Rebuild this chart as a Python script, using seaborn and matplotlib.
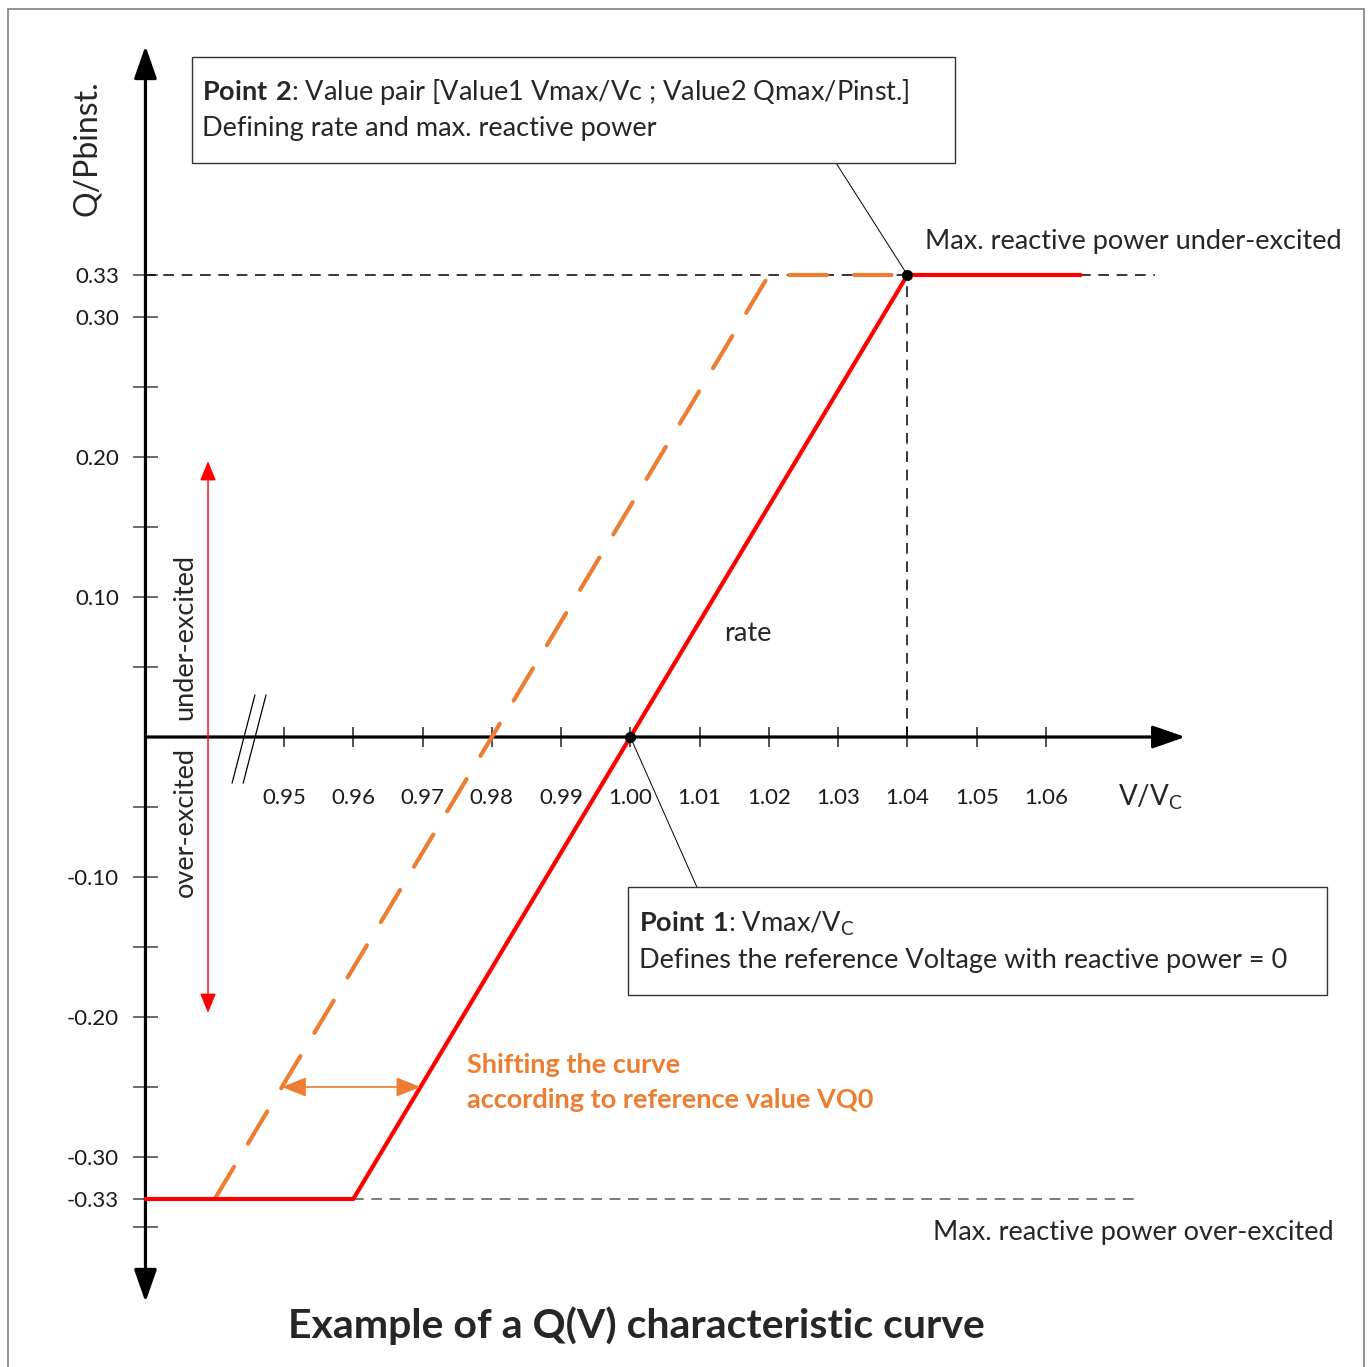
import matplotlib
matplotlib.use('Agg')
import matplotlib.pyplot as plt
import matplotlib.patches as mpatches
import pandas as pd
import seaborn as sns

# ---- data ----
# red Q(V) characteristic (V/Vc, Q/Pbinst.)
v_red = [0.93, 0.96, 1.04, 1.065]
q_red = [-0.33, -0.33, 0.33, 0.33]
# shifted curve (orange dashed)
v_shift = [0.94, 1.02, 1.04]
q_shift = [-0.33, 0.33, 0.33]
# Point 1 and Point 2
point_v = [1.00, 1.04]
point_q = [0.00, 0.33]
q_max = 0.33

x_ticks = [0.95, 0.96, 0.97, 0.98, 0.99, 1.00, 1.01, 1.02, 1.03, 1.04, 1.05, 1.06]
x_labels = ['0.95', '0.96', '0.97', '0.98', '0.99', '1.00', '1.01', '1.02', '1.03', '1.04', '1.05', '1.06']
y_ticks = [0.33, 0.30, 0.20, 0.10, -0.10, -0.20, -0.30, -0.33]
y_labels = ['0.33', '0.30', '0.20', '0.10', '-0.10', '-0.20', '-0.30', '-0.33']
y_minor = [0.25, 0.15, 0.05, -0.05, -0.15, -0.25, -0.35]

RED = '#ff0000'
ORANGE = '#ed7d31'
FS = 19.5

sns.set_style('white')
plt.rcParams['font.family'] = ['Lato', 'DejaVu Sans']
plt.rcParams['mathtext.fontset'] = 'custom'
plt.rcParams['mathtext.rm'] = 'Lato'
plt.rcParams['mathtext.bf'] = 'Lato:bold'

fig = plt.figure(figsize=(13.71, 13.67), dpi=100)
ax = fig.add_axes([0, 0, 1, 1])
ax.set_xlim(0.90900, 1.10692)
ax.set_ylim(-0.45, 0.52643)

# axes through the origin of the diagram
for s in ['top', 'right', 'left', 'bottom']:
    ax.spines[s].set_visible(False)
ax.spines['left'].set_position(('data', 0.93))
ax.spines['bottom'].set_position(('data', 0))

ax.annotate('', xy=(1.0801, 0), xytext=(0.93, 0),
            arrowprops=dict(arrowstyle='-|>,head_length=1.0,head_width=0.35', mutation_scale=20,
                            lw=2.3, color='black', shrinkA=0, shrinkB=0), zorder=3)
ax.annotate('', xy=(0.93, 0.4936), xytext=(0.93, -0.4036),
            arrowprops=dict(arrowstyle='<|-|>,head_length=1.0,head_width=0.35', mutation_scale=20,
                            lw=2.3, color='black', shrinkA=0, shrinkB=0), zorder=3)

# axis break marks
for dv in [0.0, 0.0016]:
    ax.plot([0.9425 + dv, 0.9458 + dv], [-0.033, 0.030], color='black', lw=0.9, zorder=3)

ax.set_xticks(x_ticks, x_labels)
ax.set_yticks(y_ticks, y_labels)
ax.set_yticks(y_minor, minor=True)
ax.tick_params(axis='x', bottom=True, direction='inout', length=15, width=1.1, color='#222222',
               pad=29, labelsize=16, labelcolor='#1a1a1a')
ax.tick_params(axis='y', which='both', left=True, direction='inout', length=18, width=1.1,
               color='#444444', pad=10, labelsize=16, labelcolor='#1a1a1a')

# reference dashed lines
ax.plot([0.93, 1.0757], [q_max, q_max], color='black', lw=1.1, ls=(0, (7, 5)), zorder=2)
ax.plot([0.96, 1.0736], [-q_max, -q_max], color='#555555', lw=1.1, ls=(0, (7, 5)), zorder=2)
ax.plot([1.04, 1.04], [0, q_max], color='black', lw=1.1, ls=(0, (7, 5)), zorder=2)

# curves
df_red = pd.DataFrame({'V': v_red, 'Q': q_red})
df_shift = pd.DataFrame({'V': v_shift, 'Q': q_shift})
sns.lineplot(data=df_shift, x='V', y='Q', ax=ax, color=ORANGE, lw=3.0,
             linestyle=(0, (9, 6.5)), dash_capstyle='round', legend=False, zorder=4)
sns.lineplot(data=df_red, x='V', y='Q', ax=ax, color=RED, lw=3.0, legend=False, zorder=5)
sns.scatterplot(x=point_v, y=point_q, ax=ax, color='black', s=55, edgecolor='black', zorder=6)

ax.set_xlabel('')
ax.set_ylabel('')

# leader lines
ax.plot([1.0297, point_v[1]], [0.41, point_q[1]], color='black', lw=0.7, zorder=3)
ax.plot([1.0096, point_v[0]], [-0.1071, point_q[0]], color='black', lw=0.7, zorder=3)

# annotation boxes
ax.add_patch(mpatches.Rectangle((0.93672, 0.41), 1.04687 - 0.93672, 0.48571 - 0.41,
                                facecolor='white', edgecolor='#333333', lw=1.0, zorder=7))
ax.text(0.93816, 0.4607, r'$\mathbf{Point\ 2}$: Value pair [Value1 Vmax/Vc ; Value2 Qmax/Pinst.]',
        fontsize=FS, va='center', ha='left', zorder=8)
ax.text(0.93816, 0.4350, 'Defining rate and max. reactive power',
        fontsize=FS, va='center', ha='left', zorder=8)

ax.add_patch(mpatches.Rectangle((0.99966, -0.18429), 1.10057 - 0.99966, 0.18429 - 0.10714,
                                facecolor='white', edgecolor='#333333', lw=1.0, zorder=7))
ax.text(1.00125, -0.1336, r'$\mathbf{Point\ 1}$: Vmax/V$_{\mathrm{C}}$',
        fontsize=FS, va='center', ha='left', zorder=8)
ax.text(1.00125, -0.1593, 'Defines the reference Voltage with reactive power = 0',
        fontsize=FS, va='center', ha='left', zorder=8)

# labels
ax.text(1.04254, 0.3536, 'Max. reactive power under-excited', fontsize=FS, va='center', ha='left')
ax.text(1.04369, -0.3536, 'Max. reactive power over-excited', fontsize=FS, va='center', ha='left')
ax.text(1.01352, 0.0736, 'rate', fontsize=FS, va='center', ha='left')
ax.text(1.0704, -0.0429, r'V/V$_{\mathrm{C}}$', fontsize=20, va='center', ha='left')
ax.text(0.92156, 0.4207, 'Q/Pbinst.', fontsize=23, rotation=90, va='center', ha='center')
ax.text(0.93571, 0.0714, 'under-excited', fontsize=FS, rotation=90, va='center', ha='center')
ax.text(0.93571, -0.0607, 'over-excited', fontsize=FS, rotation=90, va='center', ha='center')

# under / over excited range arrow
ax.annotate('', xy=(0.93903, 0.197), xytext=(0.93903, -0.197),
            arrowprops=dict(arrowstyle='<|-|>,head_length=0.8,head_width=0.33', mutation_scale=15,
                            lw=1.0, color=RED, shrinkA=0, shrinkB=0))

# shift arrow between the two curves at Q = -0.25
q_arrow = -0.25
v_o = v_shift[0] + (v_shift[1] - v_shift[0]) * (q_arrow - q_shift[0]) / (q_shift[1] - q_shift[0])
v_r = v_red[1] + (v_red[2] - v_red[1]) * (q_arrow - q_red[1]) / (q_red[2] - q_red[1])
ax.annotate('', xy=(v_r, q_arrow), xytext=(v_o, q_arrow),
            arrowprops=dict(arrowstyle='<|-|>,head_length=1.0,head_width=0.4', mutation_scale=15,
                            lw=1.2, color=ORANGE, shrinkA=0, shrinkB=0), zorder=6)
ax.text(0.97642, -0.2343, 'Shifting the curve', fontsize=FS, fontweight='bold',
        color=ORANGE, va='center', ha='left')
ax.text(0.97642, -0.2593, 'according to reference value VQ0', fontsize=FS, fontweight='bold',
        color=ORANGE, va='center', ha='left')

# title
ax.text(1.0009, -0.4207, 'Example of a Q(V) characteristic curve', fontsize=29.5,
        fontweight='bold', va='center', ha='center')

# picture frame
fig.patches.append(mpatches.Rectangle((8 / 1371, -0.01), (1364 - 8) / 1371, 1.01 - 9 / 1367,
                                      transform=fig.transFigure, fill=False,
                                      edgecolor='#7f7f7f', lw=1.2))

fig.savefig('out.png', dpi=100)
